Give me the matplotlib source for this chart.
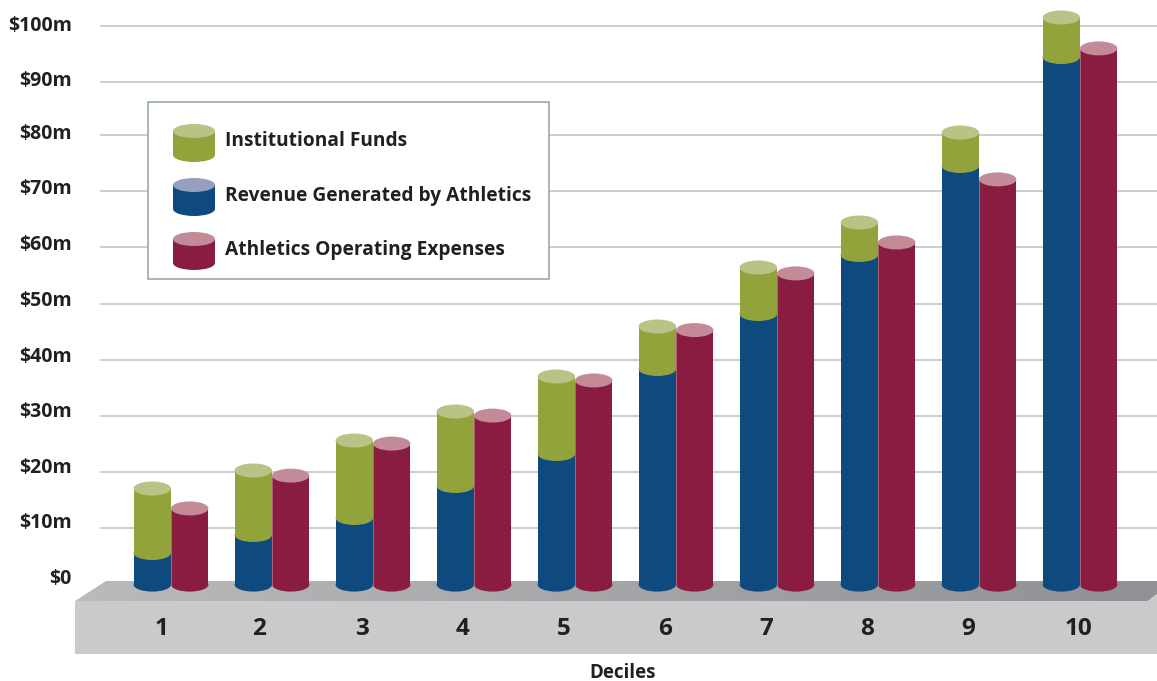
"""Cylinder bar chart: athletics revenue, institutional funds and expenses by decile."""

import numpy as np
import matplotlib.pyplot as plt
from matplotlib.colors import LinearSegmentedColormap
from matplotlib.patches import Ellipse, Polygon, Rectangle

W, H = 1157, 681
Y0_PX, PX_PER_M = 584.6, 5.6
X1_PX, PX_PER_DEC = 171.0, 101.0

deciles = [1, 2, 3, 4, 5, 6, 7, 8, 9, 10]
revenue = [5.64, 8.86, 11.89, 17.61, 23.32, 38.5, 48.32, 58.86, 74.75, 94.21]
total_funds = [17.16, 20.38, 25.73, 30.91, 37.16, 46.09, 56.63, 64.66, 80.73, 101.27]
expenses = [13.6, 19.46, 25.18, 30.18, 36.45, 45.45, 55.57, 61.1, 72.36, 95.75]
y_ticks = [0, 10, 20, 30, 40, 50, 60, 70, 80, 90, 100]
# the drawn rules are not evenly spaced near the top
grid_levels = [0, 10.1, 20.1, 30.1, 40.1, 50.1, 60.2, 70.2, 80.2, 89.8, 99.75]
y_labels = ["$0", "$10m", "$20m", "$30m", "$40m", "$50m", "$60m", "$70m", "$80m", "$90m", "$100m"]
legend_labels = ["Institutional Funds", "Revenue Generated by Athletics", "Athletics Operating Expenses"]

GREEN, GREEN_TOP = "#92a33c", "#bac285"
BLUE, BLUE_TOP = "#0f4a7f", "#979fbf"
RED, RED_TOP = "#8b1c41", "#c38a98"
TEXT = "#231f20"

plt.rcParams["font.family"] = ["Open Sans", "DejaVu Sans"]
plt.rcParams["font.weight"] = "bold"


def px(x, y):
    """Pixel position in the reference to data coordinates."""
    return (x - X1_PX) / PX_PER_DEC + 1, (Y0_PX - y) / PX_PER_M


BAR_W = 37.4 / PX_PER_DEC
CAP_H = 14 / PX_PER_M


def segment(ax, x, low, high, color, z):
    ax.bar(x, high - low, BAR_W, bottom=low, color=color, lw=0, zorder=z)
    ax.add_patch(Ellipse((x, low), BAR_W, CAP_H, fc=color, ec="none", zorder=z))


def cap(ax, x, y, color, z):
    ax.add_patch(Ellipse((x, y), BAR_W, CAP_H, fc=color, ec="none", zorder=z))


fig = plt.figure(figsize=(W / 100, H / 100), dpi=100)
ax = fig.add_axes([0, 0, 1, 1])
ax.set_xlim(px(0, 0)[0], px(W, 0)[0])
ax.set_ylim(px(0, H)[1], px(0, 0)[1])
ax.axis("off")

# gridlines stop at the left where the platform starts
for v in grid_levels[1:]:
    ax.plot([px(101, 0)[0], px(W, 0)[0]], [v, v], color="#bfc0c2", lw=1.1, zorder=1)

# platform: gradient top face and flat front
top_pts = [px(75, 601), px(106, 581), px(W, 581), px(W, 594), px(1148, 601)]
top_face = Polygon(top_pts, fc="none", ec="none", zorder=2)
ax.add_patch(top_face)
grad = np.linspace(0, 1, 256).reshape(1, -1)
im = ax.imshow(
    grad,
    extent=(px(75, 0)[0], px(W, 0)[0], px(0, 601)[1], px(0, 581)[1]),
    cmap=LinearSegmentedColormap.from_list("top", ["#b9babc", "#8f9194"]),
    aspect="auto",
    zorder=2,
)
im.set_clip_path(top_face)
ax.set_xlim(px(0, 0)[0], px(W, 0)[0])
ax.set_ylim(px(0, H)[1], px(0, 0)[1])
front_pts = [px(75, 601), px(1148, 601), px(W, 594), px(W, 654), px(75, 654)]
ax.add_patch(Polygon(front_pts, fc="#c9cacc", ec="none", zorder=3))

# cylinders
half = BAR_W / 2
for i, d in enumerate(deciles):
    z = 5 + i * 0.1
    segment(ax, d - half, 0, revenue[i], BLUE, z)
    segment(ax, d - half, revenue[i], total_funds[i], GREEN, z + 0.01)
    cap(ax, d - half, total_funds[i], GREEN_TOP, z + 0.02)
    segment(ax, d + half, 0, expenses[i], RED, z + 0.03)
    cap(ax, d + half, expenses[i], RED_TOP, z + 0.04)
    # faint light seam where the two cylinders touch
    ax.plot([d, d], [0, expenses[i]], color="white", alpha=0.35, lw=0.6, zorder=z + 0.05)

# axis text, labels sit a little above their rules, more so lower down
for v, level, lab in zip(y_ticks, grid_levels, y_labels):
    lift = (2 + 5 * (100 - v) / 100 - 1.5) / PX_PER_M
    ax.text(px(72, 0)[0], level + lift, lab, ha="right", va="center",
            fontsize=14, color=TEXT, zorder=10)
nudge = {1: 1.5, 2: -2.5, 10: 9}
for d in deciles:
    ax.text(d + (nudge.get(d, 0) - 11) / PX_PER_DEC, px(0, 629)[1], str(d),
            ha="center", va="center", fontsize=17.5, color=TEXT, zorder=10)
ax.text(*px(623, 672.5), "Deciles", ha="center", va="center", fontsize=13.5, color=TEXT, zorder=10)

# legend box
bx0, by0 = px(148.5, 279)
bx1, by1 = px(549, 102)
ax.add_patch(Rectangle((bx0, by0), bx1 - bx0, by1 - by0, fc="white", ec="#8ea2ad", lw=1.1, zorder=8))
rows = zip([131, 185, 239], [GREEN, BLUE, RED], [GREEN_TOP, BLUE_TOP, RED_TOP], legend_labels, [141, 196, 250])
for top, body, light, label, ty in rows:
    cx = px(194, 0)[0]
    low, high = px(0, top + 24)[1], px(0, top)[1]
    w = 42 / PX_PER_DEC
    ax.add_patch(Rectangle((cx - w / 2, low), w, high - low, fc=body, ec="none", zorder=9))
    ax.add_patch(Ellipse((cx, low), w, CAP_H, fc=body, ec="none", zorder=9))
    ax.add_patch(Ellipse((cx, high), w, CAP_H, fc=light, ec="none", zorder=9))
    ax.text(*px(225, ty), label, ha="left", va="center", fontsize=13.8, color=TEXT, zorder=10)

fig.savefig("out.png", dpi=100)
